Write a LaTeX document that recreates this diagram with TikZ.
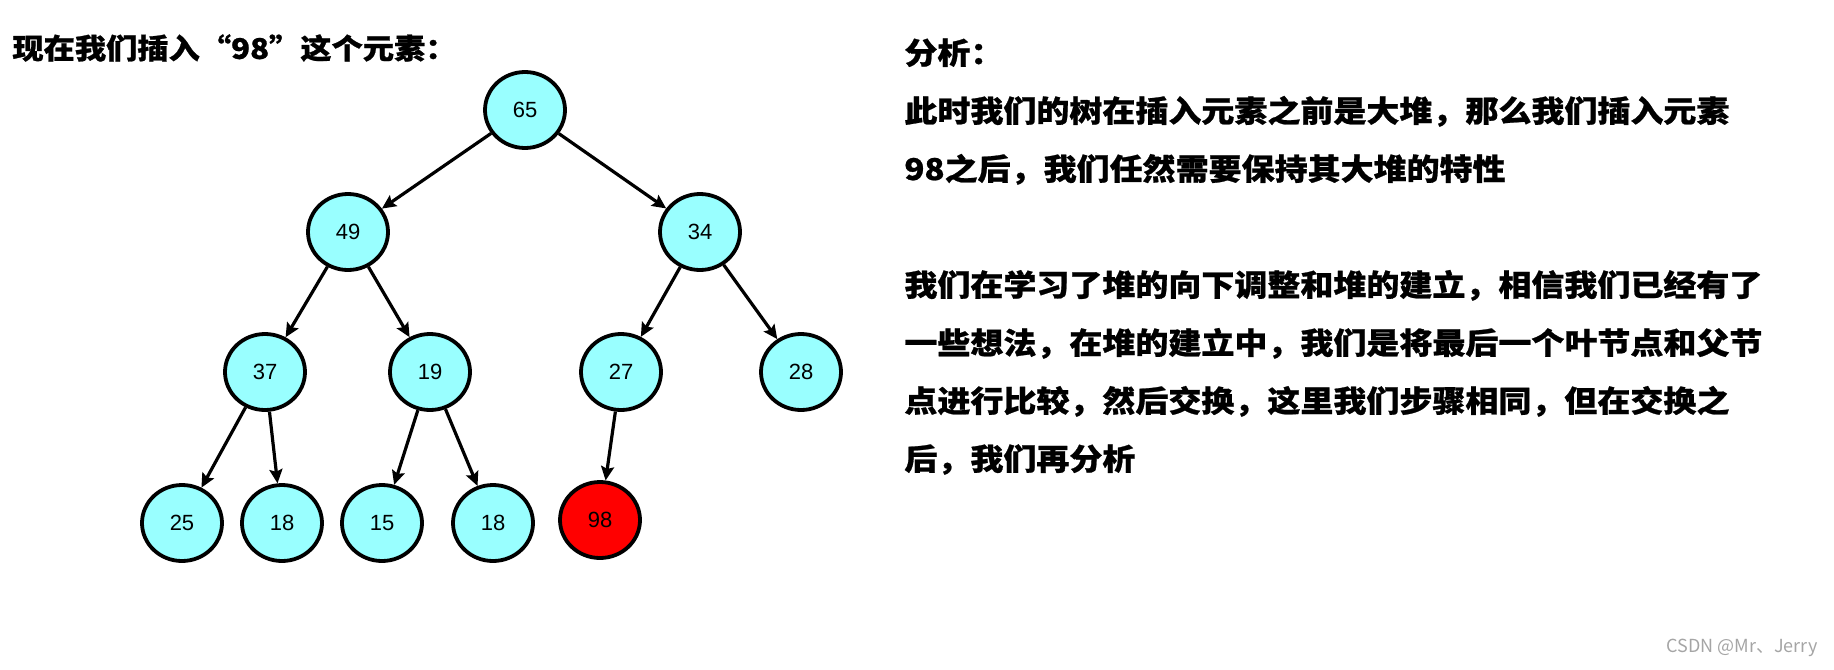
\documentclass[tikz,border=0pt]{standalone}
\usepackage{fontspec}
\setmainfont{Liberation Sans}
\newfontfamily\cjk[FakeStretch=1.1,BoldFeatures={FakeBold=0.8}]{Noto Sans CJK SC}
\newfontfamily\cjkmark{Noto Sans CJK SC}
\usetikzlibrary{arrows.meta,shapes.geometric}
\definecolor{HeapCyan}{RGB}{153,255,255}
\definecolor{HeapRed}{RGB}{255,0,0}
\definecolor{MarkGray}{RGB}{165,165,165}

\begin{document}
\begin{tikzpicture}[x=0.5pt,y=-0.5pt,every node/.style={font=\fontsize{11pt}{13pt}\selectfont},
  key/.style={draw,ellipse,line width=1.9pt,fill=HeapCyan,minimum width=40pt,minimum height=38pt,inner sep=0pt},
  link/.style={-{Stealth[length=7pt,width=6.5pt,inset=1.2pt]},line width=1.6pt},
  note/.style={inner sep=0pt,align=left,font=\cjk\bfseries\fontsize{15pt}{29pt}\selectfont}]
\useasboundingbox (0,0) rectangle (1834,669);
\node[note,anchor=west,font=\cjk\bfseries\fontsize{14.2pt}{16pt}\selectfont] (title) at (12,48) {现在我们插入“98”这个元素：};
\node[key] (n65) at (525,110) {65};
\node[key] (n49) at (348,232) {49};
\node[key] (n34) at (700,232) {34};
\node[key] (n37) at (265,372) {37};
\node[key] (n19) at (430,372) {19};
\node[key] (n27) at (621,372) {27};
\node[key] (n28) at (801,372) {28};
\node[key] (n25) at (182,523) {25};
\node[key] (n18a) at (282,523) {18};
\node[key] (n15) at (382,523) {15};
\node[key] (n18b) at (493,523) {18};
\node[key,fill=HeapRed] (n98) at (600,520) {98};
\draw[link] (n65) -- (n49);
\draw[link] (n65) -- (n34);
\draw[link] (n49) -- (n37);
\draw[link] (n49) -- (n19);
\draw[link] (n34) -- (n27);
\draw[link] (n34) -- (n28);
\draw[link] (n37) -- (n25);
\draw[link] (n37) -- (n18a);
\draw[link] (n19) -- (n15);
\draw[link] (n19) -- (n18b);
\draw[link] (n27) -- (n98);
% analysis text
\node[note,anchor=north west] (analysis) at (904,38) {分析：\\
此时我们的树在插入元素之前是大堆，那么我们插入元素\\
98之后，我们任然需要保持其大堆的特性\\[29pt]
我们在学习了堆的向下调整和堆的建立，相信我们已经有了\\
一些想法，在堆的建立中，我们是将最后一个叶节点和父节\\
点进行比较，然后交换，这里我们步骤相同，但在交换之\\
后，我们再分析};
\node[anchor=east,inner sep=0pt,text=MarkGray,font=\cjkmark\fontsize{9pt}{11pt}\selectfont] (mark) at (1818,648) {CSDN @Mr、Jerry};
\end{tikzpicture}
\end{document}
